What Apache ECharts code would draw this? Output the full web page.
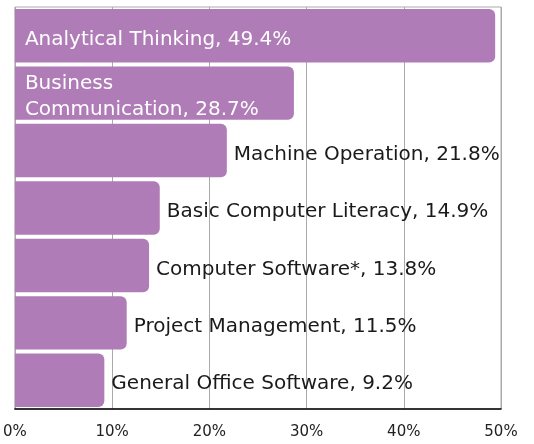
<!DOCTYPE html>
<html>
<head>
<meta charset="utf-8">
<script src="https://cdn.jsdelivr.net/npm/echarts@6/dist/echarts.min.js"></script>
<style>
  html, body { margin: 0; padding: 0; background: #fff; }
</style>
</head>
<body>
<div id="chart" style="width: 534px; height: 444px;"></div>
<script>
// skills, top to bottom
const skills = [
  'Analytical Thinking',
  'Business Communication',
  'Machine Operation',
  'Basic Computer Literacy',
  'Computer Software*',
  'Project Management',
  'General Office Software'
];
const shares = [49.4, 28.7, 21.8, 14.9, 13.8, 11.5, 9.2];
const xTicks = [0, 10, 20, 30, 40, 50];

const FONT = 'DejaVu Sans';
const BAR = '#b07cb7';

const chart = echarts.init(document.getElementById('chart'));

const seriesData = shares.map((v, i) => {
  const inside = i < 2; // the two longest bars carry their label inside
  return {
    value: v,
    label: inside ? {
      position: 'insideLeft',
      distance: 10,
      color: '#fff',
      lineHeight: 26
    } : {
      position: 'right',
      distance: 7,
      color: '#1a1a1a'
    }
  };
});

const option = {
  animation: false,
  grid: {
    left: 14,
    right: 33,
    top: 7,
    bottom: 35,
    show: true,
    borderColor: '#aaa',
    borderWidth: 1
  },
  xAxis: {
    type: 'value',
    min: xTicks[0],
    max: xTicks[xTicks.length - 1],
    interval: 10,
    axisLine: { show: true, lineStyle: { color: '#000', width: 1.5 } },
    axisTick: { show: false },
    splitLine: { show: true, lineStyle: { color: '#aaa', width: 1 } },
    axisLabel: {
      formatter: '{value}%',
      color: '#222',
      fontFamily: FONT,
      fontSize: 15,
      margin: 16
    }
  },
  yAxis: {
    type: 'category',
    data: skills,
    inverse: true,
    axisLine: { show: false },
    axisTick: { show: false },
    axisLabel: { show: false },
    splitLine: { show: false }
  },
  series: [{
    type: 'bar',
    data: seriesData,
    barCategoryGap: '7%',
    itemStyle: { color: BAR, borderRadius: [0, 6, 6, 0] },
    label: {
      show: true,
      fontFamily: FONT,
      fontSize: 20,
      offset: [0, 4],
      formatter: p => {
        // second bar is too short for one line, wrap after the first word
        const name = p.dataIndex === 1 ? p.name.replace(' ', '\n') : p.name;
        return name + ', ' + p.value + '%';
      }
    }
  }]
};

chart.setOption(option);
</script>
</body>
</html>
